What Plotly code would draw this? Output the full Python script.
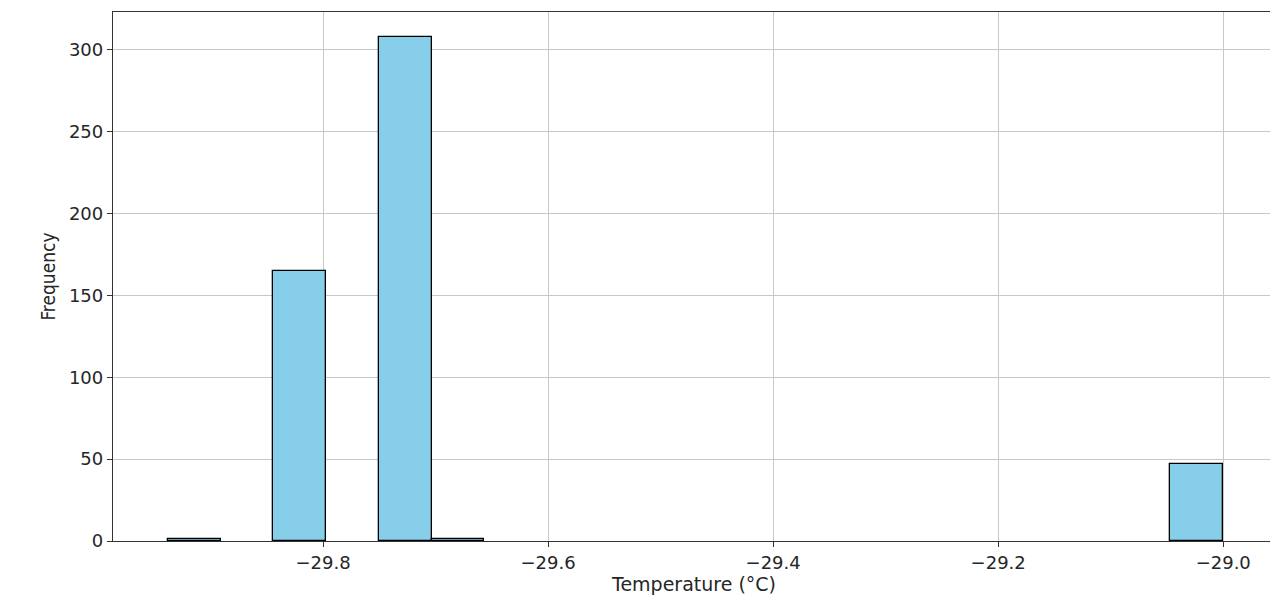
import plotly.graph_objects as go

# Histogram data (20 equal bins between min and max temperature)
temp_min = -29.938
temp_max = -29.0
bin_counts = [1, 0, 165, 0, 308, 1, 0, 0, 0, 0, 0, 0, 0, 0, 0, 0, 0, 0, 0, 47]
x_ticks = [-29.8, -29.6, -29.4, -29.2, -29.0]
x_tick_labels = ["\u221229.8", "\u221229.6", "\u221229.4", "\u221229.2", "\u221229.0"]
y_ticks = [0, 50, 100, 150, 200, 250, 300]

n = len(bin_counts)
w = (temp_max - temp_min) / n
centers = [temp_min + w * (i + 0.5) for i in range(n)]
heights = [c if c > 0 else None for c in bin_counts]

fig = go.Figure(go.Bar(
    x=centers, y=heights, width=[w] * n,
    marker=dict(color="#87CEEB", line=dict(color="black", width=1.3)),
))

axis_common = dict(
    showline=True, linecolor="#333", linewidth=1.3, mirror=True,
    ticks="outside", ticklen=5, tickcolor="#333", tickwidth=1,
    showgrid=True, gridcolor="#c8c8c8", gridwidth=1, zeroline=False,
    tickfont=dict(family="DejaVu Sans", size=18, color="#262626"),
)

fig.update_layout(
    width=1270, height=596,
    margin=dict(l=105, r=3, t=4, b=63),
    plot_bgcolor="white", paper_bgcolor="white",
    showlegend=False, bargap=0,
    xaxis=dict(range=[-29.9867, -28.954], tickvals=x_ticks, ticktext=x_tick_labels,
               title=dict(text="Temperature (°C)", standoff=4,
                          font=dict(family="DejaVu Sans", size=19, color="#262626")),
               **axis_common),
    yaxis=dict(range=[0, 323.2], tickvals=y_ticks,
               title=dict(text="Frequency", standoff=8,
                          font=dict(family="DejaVu Sans Condensed, Liberation Sans Narrow", size=19, color="#262626")),
               **axis_common),
)

fig.write_html("out.html")
